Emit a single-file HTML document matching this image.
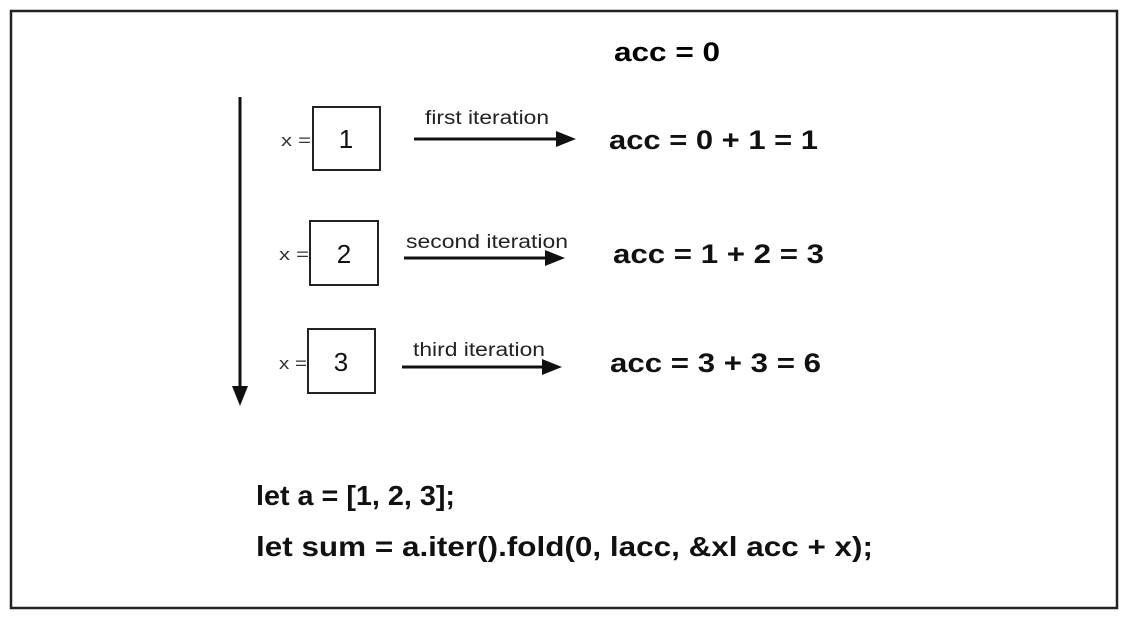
<!DOCTYPE html>
<html><head><style>
body{margin:0;background:#fff;}
svg{display:block;font-family:"Liberation Sans",Arial,sans-serif;}
</style></head><body>
<svg width="1128" height="619" viewBox="0 0 1128 619">
<rect x="11" y="11" width="1106" height="597" fill="#fff" stroke="#222" stroke-width="2.5"/>
<text x="614" y="61" font-size="27" font-weight="bold" textLength="106" lengthAdjust="spacingAndGlyphs">acc = 0</text>
<line x1="240" y1="97" x2="240" y2="388" stroke="#111" stroke-width="3"/>
<polygon points="232,386 248,386 240,406" fill="#111"/>
<g font-size="17" fill="#333">
<text x="281" y="146" textLength="30" lengthAdjust="spacingAndGlyphs">x =</text>
<text x="279" y="260" textLength="30" lengthAdjust="spacingAndGlyphs">x =</text>
<text x="279" y="369" textLength="28" lengthAdjust="spacingAndGlyphs">x =</text>
</g>
<g fill="#fff" stroke="#222" stroke-width="2">
<rect x="313" y="107" width="67" height="63"/>
<rect x="310" y="221" width="68" height="64"/>
<rect x="308" y="329" width="67" height="64"/>
</g>
<g font-size="26" fill="#111" text-anchor="middle">
<text x="346" y="148">1</text>
<text x="344" y="263">2</text>
<text x="341" y="371">3</text>
</g>
<g stroke="#111" stroke-width="3">
<line x1="414" y1="139" x2="560" y2="139"/>
<line x1="404" y1="258" x2="550" y2="258"/>
<line x1="402" y1="367" x2="548" y2="367"/>
</g>
<g fill="#111">
<polygon points="556,131 576,139 556,147"/>
<polygon points="545,250 565,258 545,266"/>
<polygon points="542,359 562,367 542,375"/>
</g>
<g font-size="19" fill="#222">
<text x="425" y="124" textLength="124" lengthAdjust="spacingAndGlyphs">first iteration</text>
<text x="406" y="248" textLength="162" lengthAdjust="spacingAndGlyphs">second iteration</text>
<text x="413" y="356" textLength="132" lengthAdjust="spacingAndGlyphs">third iteration</text>
</g>
<g font-size="27" font-weight="bold" fill="#111">
<text x="609" y="149" textLength="209" lengthAdjust="spacingAndGlyphs">acc = 0 + 1 = 1</text>
<text x="613" y="263" textLength="211" lengthAdjust="spacingAndGlyphs">acc = 1 + 2 = 3</text>
<text x="610" y="372" textLength="211" lengthAdjust="spacingAndGlyphs">acc = 3 + 3 = 6</text>
<text x="256" y="505" font-size="28" textLength="199" lengthAdjust="spacingAndGlyphs">let a = [1, 2, 3];</text>
<text x="256" y="556" font-size="28" textLength="617" lengthAdjust="spacingAndGlyphs">let sum = a.iter().fold(0, lacc, &amp;xl acc + x);</text>
</g>
</svg>
</body></html>
